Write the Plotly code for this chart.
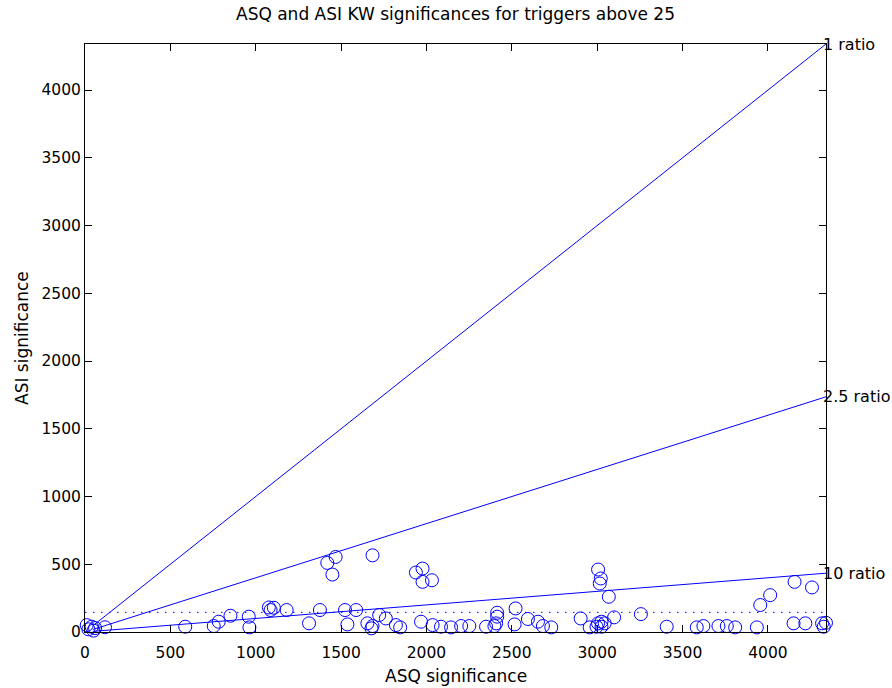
import plotly.graph_objects as go

asq = [10, 39, 59, 117, 20, 50, 587, 754, 783, 852, 959, 963, 1077, 1087, 1106, 1181, 1312, 1376,
       1419, 1449, 1468, 1523, 1537, 1588, 1654, 1678, 1684, 1684, 1723, 1762, 1821, 1846,
       1938, 1977, 1977, 2032, 1968, 2036, 2085, 2144, 2203, 2251, 2349, 2398, 2414, 2414, 2408,
       2522, 2516, 2594, 2653, 2682, 2731, 2903, 2956, 3005, 3021, 3015, 3068, 3005, 3025, 3044,
       2996, 3025, 3099, 3256, 3407, 3583, 3622, 3710, 3759, 3808, 3935, 3955, 4013, 4150, 4219,
       4156, 4258, 4317, 4340, 4327]
asi = [51, 39, 29, 35, 20, 10, 39, 44, 76, 120, 113, 34, 181, 162, 179, 162, 64, 162,
       510, 424, 554, 162, 56, 162, 64, 27, 566, 44, 125, 100, 51, 34,
       439, 468, 370, 382, 76, 51, 39, 34, 44, 44, 39, 44, 142, 113, 64,
       174, 56, 96, 76, 44, 34, 100, 34, 461, 395, 358, 260, 64, 76, 64,
       39, 39, 108, 132, 39, 34, 44, 44, 44, 34, 34, 199, 272, 64, 64,
       370, 329, 64, 68, 39]

axis_max = 4340
ratios = [1, 2.5, 10]
ratio_labels = ["1 ratio", "2.5 ratio", "10 ratio"]
line_start = 45
threshold = 145

blue = "rgb(0,0,255)"
font = "DejaVu Sans, sans-serif"
fig = go.Figure()
for r in ratios:
    fig.add_trace(go.Scatter(x=[line_start, axis_max], y=[line_start / r, axis_max / r],
                             mode="lines", line=dict(color=blue, width=1),
                             showlegend=False, hoverinfo="skip"))
fig.add_trace(go.Scatter(x=[0, axis_max], y=[threshold, threshold], mode="lines",
                         line=dict(color=blue, width=1, dash="1.5px,6.5px"), showlegend=False))
fig.add_trace(go.Scatter(x=asq, y=asi, mode="markers",
                         marker=dict(symbol="circle-open", size=13, color=blue,
                                     line=dict(width=1, color=blue)),
                         showlegend=False, cliponaxis=False))

for r, lab in zip(ratios, ratio_labels):
    fig.add_annotation(x=axis_max, y=axis_max / r, text=lab, showarrow=False,
                       xanchor="left", yanchor="middle", xshift=-5,
                       font=dict(size=16, color="black", family=font))

fig.add_annotation(text="ASQ significance", xref="paper", yref="paper", x=0.5, y=0,
                   yshift=-44, xanchor="center", yanchor="middle", showarrow=False,
                   font=dict(size=17, color="black", family=font))
fig.add_annotation(text="ASI significance", xref="paper", yref="paper", x=0, y=0.5,
                   xshift=-63, xanchor="center", yanchor="middle", textangle=-90,
                   showarrow=False, font=dict(size=17, color="black", family=font))
fig.add_annotation(text="ASQ and ASI KW significances for triggers above 25", xref="paper",
                   yref="paper", x=0.5, y=1, yshift=30, xanchor="center", yanchor="middle",
                   showarrow=False, font=dict(size=17, color="black", family=font))

axis_common = dict(range=[0, axis_max], showgrid=False, zeroline=False, ticks="inside",
                   ticklen=7, tickcolor="black", showline=True, linecolor="black",
                   linewidth=1, mirror="ticks", dtick=500,
                   tickfont=dict(size=15.5, color="black", family=font))
fig.update_xaxes(**axis_common, ticklabelstandoff=6)
fig.update_yaxes(**axis_common)
fig.update_layout(
    width=892, height=688,
    margin=dict(l=85, r=66, t=44, b=56),
    paper_bgcolor="white", plot_bgcolor="white",
    font=dict(family=font, color="black"),
)
fig.write_html("out.html")
